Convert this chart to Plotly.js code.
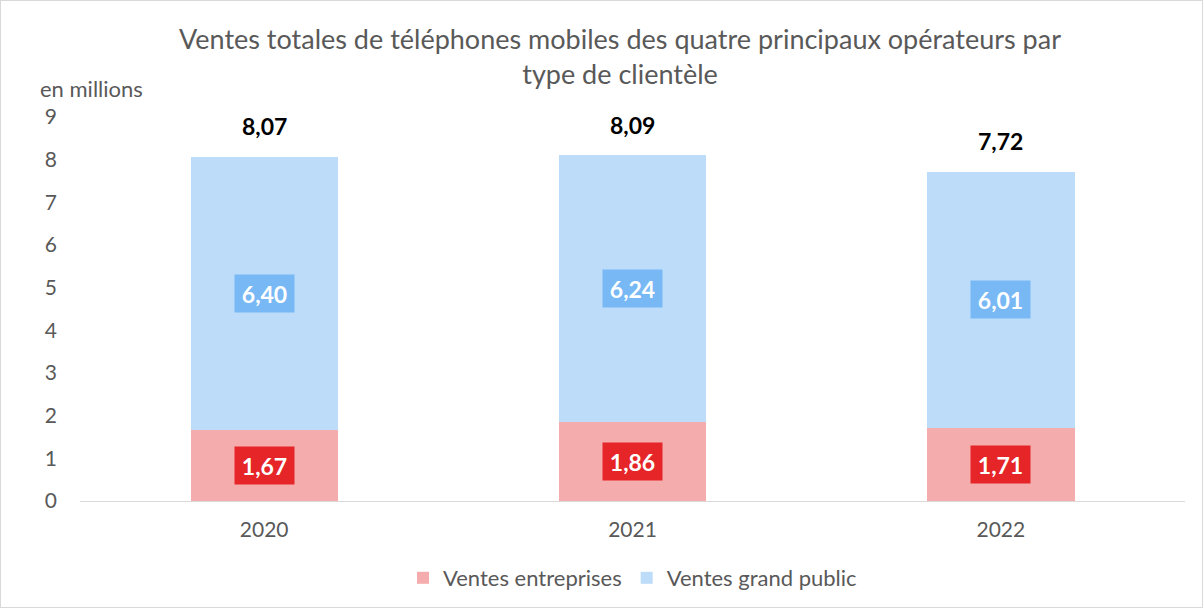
<!DOCTYPE html>
<html>
<head>
<meta charset="utf-8">
<script src="https://cdn.plot.ly/plotly-3.0.1.min.js"></script>
<style>
html,body{margin:0;padding:0;background:#fff;}
#chart{width:1203px;height:608px;}
#frame{position:absolute;left:0;top:0;width:1203px;height:608px;box-sizing:border-box;border:1px solid #D9D9D9;pointer-events:none;}
</style>
</head>
<body>
<div id="chart"></div>
<div id="frame"></div>
<script>
const years = ['2020', '2021', '2022'];
const entreprises = [1.67, 1.86, 1.71];
const grandPublic = [6.40, 6.24, 6.01];
const totals = [8.07, 8.09, 7.72];
const yTicks = [0, 1, 2, 3, 4, 5, 6, 7, 8, 9];

const fmt = v => v.toFixed(2).replace('.', ',');
const FONT = 'Lato, "Open Sans", sans-serif';
const GREY = '#595959';

const traces = [
  {type: 'bar', name: 'Ventes entreprises', x: years, y: entreprises,
   marker: {color: '#F5ACAC'}, width: 0.4, hoverinfo: 'none'},
  {type: 'bar', name: 'Ventes grand public', x: years, y: grandPublic,
   marker: {color: '#BDDCF9'}, width: 0.4, hoverinfo: 'none'}
];

const annotations = [];
years.forEach((yr, i) => {
  annotations.push({x: i, y: entreprises[i] / 2, xref: 'x', yref: 'y',
    text: '<b>' + fmt(entreprises[i]) + '</b>', showarrow: false,
    font: {family: FONT, size: 23, color: '#FFFFFF'},
    bgcolor: '#E52528', borderpad: 5, width: 49, height: 27});
  annotations.push({x: i, y: entreprises[i] + grandPublic[i] / 2, xref: 'x', yref: 'y',
    text: '<b>' + fmt(grandPublic[i]) + '</b>', showarrow: false,
    font: {family: FONT, size: 23, color: '#FFFFFF'},
    bgcolor: '#78B8F5', borderpad: 5, width: 49, height: 27});
  annotations.push({x: i, y: totals[i], xref: 'x', yref: 'y', yanchor: 'bottom', yshift: 15,
    text: '<b>' + fmt(totals[i]) + '</b>', showarrow: false,
    font: {family: FONT, size: 23, color: '#000000'}});
});
annotations.push({
  x: -42 / 1105, y: 1 + 29 / 384, xref: 'paper', yref: 'paper',
  xanchor: 'left', yanchor: 'middle', text: 'en millions', showarrow: false,
  font: {family: FONT, size: 22, color: GREY}
});

const layout = {
  width: 1203, height: 608,
  margin: {l: 80, r: 18, t: 117, b: 107, autoexpand: false},
  paper_bgcolor: '#FFFFFF', plot_bgcolor: '#FFFFFF',
  barmode: 'stack',
  title: {text: 'Ventes totales de téléphones mobiles des quatre principaux opérateurs par<br>type de clientèle',
    font: {family: FONT, size: 27, color: GREY}, x: 620 / 1203, xanchor: 'center',
    y: 1 - 49 / 608, yanchor: 'middle', xref: 'container', yref: 'container'},
  xaxis: {type: 'category', range: [-0.5, 2.5], showgrid: false, showline: true, linecolor: '#D9D9D9', linewidth: 1,
    ticks: '', tickfont: {family: FONT, size: 21, color: GREY}, ticklabelstandoff: 10},
  yaxis: {range: [0, 9], tickvals: yTicks, ticktext: yTicks.map(String), showgrid: false,
    zeroline: false, showline: false, ticks: '',
    tickfont: {family: FONT, size: 21, color: GREY}, ticklabelstandoff: 22},
  showlegend: true,
  legend: {orientation: 'h', x: 0.5, xanchor: 'center', xref: 'paper',
    y: 1 - 578 / 608, yanchor: 'middle', yref: 'container',
    font: {family: FONT, size: 22, color: GREY}, traceorder: 'normal'},
  annotations: annotations
};

Plotly.newPlot('chart', traces, layout, {displayModeBar: false, staticPlot: true});
</script>
</body>
</html>
